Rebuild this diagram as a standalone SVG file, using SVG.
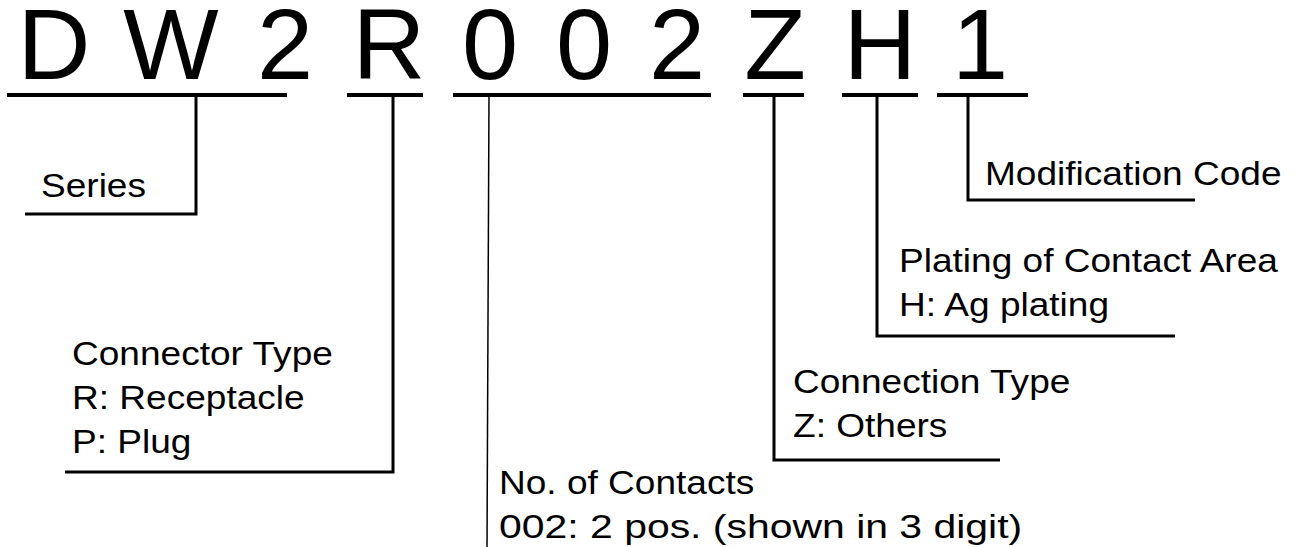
<svg xmlns="http://www.w3.org/2000/svg" width="1303" height="547" viewBox="0 0 1303 547">
<style>
.big{font-family:"Liberation Sans",Arial,sans-serif;font-size:101px;fill:#000;text-anchor:middle}
.lbl{font-family:"Liberation Sans",Arial,sans-serif;font-size:34px;fill:#000}
.ul{stroke:#000;stroke-width:4;fill:none}
.ld{stroke:#000;stroke-width:3;fill:none}
.thin{stroke:#000;stroke-width:1.5;fill:none}
</style>
<rect width="1303" height="547" fill="#fff"/>
<g id="code">
<text class="big" x="54" y="79">D</text>
<text class="big" x="171" y="79">W</text>
<text class="big" x="285" y="79">2</text>
<text class="big" x="389" y="79">R</text>
<text class="big" x="490" y="79">0</text>
<text class="big" x="584" y="79">0</text>
<text class="big" x="677" y="79">2</text>
<text class="big" x="775" y="79">Z</text>
<text class="big" x="880" y="79">H</text>
<text class="big" x="980" y="79">1</text>
</g>
<g id="underlines">
<line class="ul" x1="7" y1="95" x2="287" y2="95"/>
<line class="ul" x1="347" y1="95" x2="423" y2="95"/>
<line class="ul" x1="453" y1="95" x2="711" y2="95"/>
<line class="ul" x1="743" y1="95" x2="804" y2="95"/>
<line class="ul" x1="842" y1="95" x2="918" y2="95"/>
<line class="ul" x1="937" y1="95" x2="1028" y2="95"/>
</g>
<g id="connectors">
<polyline class="ld" points="196,95 196,214 25,214"/>
<polyline class="ld" points="393,95 393,472 65,472"/>
<line class="thin" x1="489" y1="95" x2="487" y2="547"/>
<polyline class="ld" points="774,95 774,460 1000,460"/>
<polyline class="ld" points="877,95 877,336 1175,336"/>
<polyline class="ld" points="968,95 968,200 1195,200"/>
</g>
<g id="series" transform="translate(41,197) scale(1.09,1)"><text class="lbl" x="0" y="0">Series</text></g>
<g id="connector-type" transform="translate(72,0) scale(1.09,1)">
<text class="lbl" x="0" y="365">Connector Type</text>
<text class="lbl" x="0" y="409">R: Receptacle</text>
<text class="lbl" x="0" y="453">P: Plug</text>
</g>
<g id="contacts" transform="translate(499,0) scale(1.09,1)">
<text class="lbl" x="0" y="494">No. of Contacts</text>
<text class="lbl" x="0" y="538" textLength="480" lengthAdjust="spacingAndGlyphs">002: 2 pos. (shown in 3 digit)</text>
</g>
<g id="connection-type" transform="translate(793,0) scale(1.09,1)">
<text class="lbl" x="0" y="393">Connection Type</text>
<text class="lbl" x="0" y="437">Z: Others</text>
</g>
<g id="plating" transform="translate(899,0) scale(1.09,1)">
<text class="lbl" x="0" y="272">Plating of Contact Area</text>
<text class="lbl" x="0" y="316">H: Ag plating</text>
</g>
<g id="modification" transform="translate(985,185) scale(1.09,1)"><text class="lbl" x="0" y="0">Modification Code</text></g>
</svg>
